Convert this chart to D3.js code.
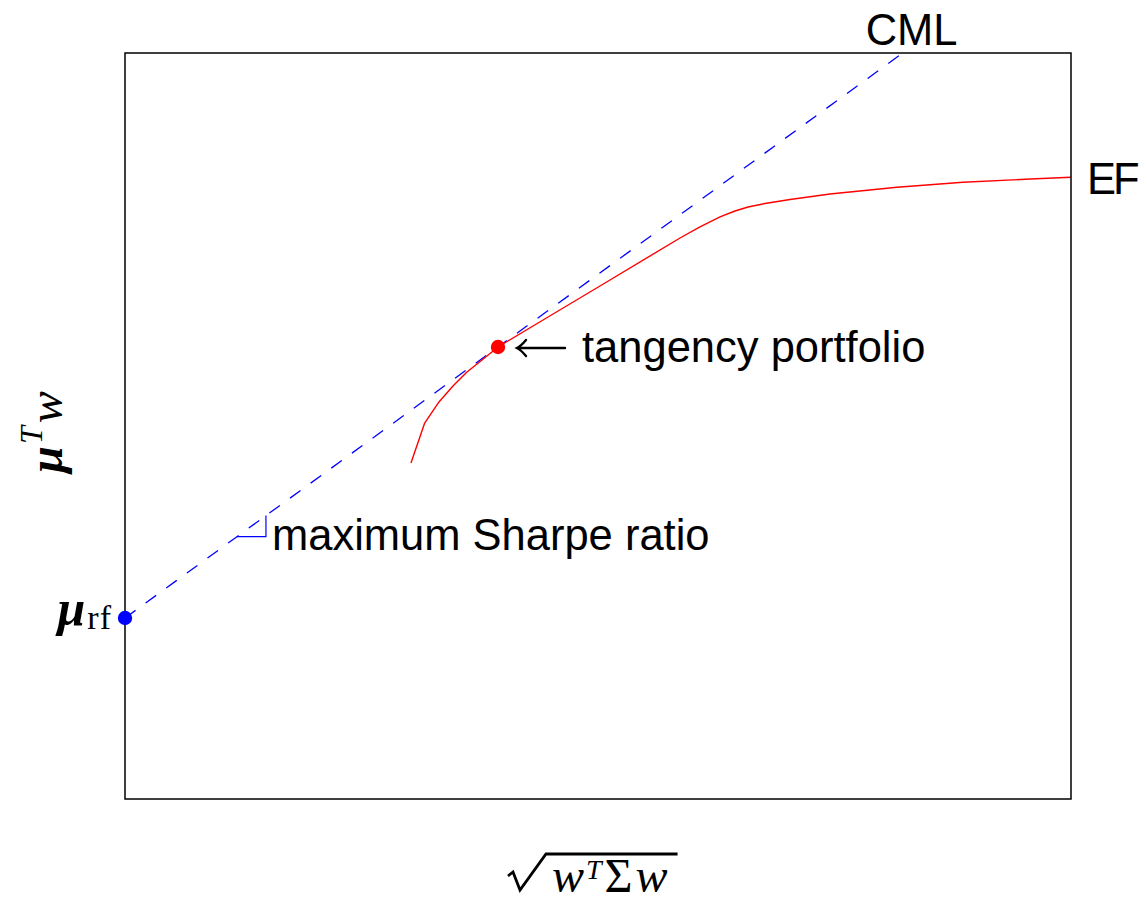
<!DOCTYPE html>
<html>
<head>
<meta charset="utf-8">
<script src="https://cdn.jsdelivr.net/npm/d3@7"></script>
<style>
  html, body { margin: 0; padding: 0; background: #fff; }
  svg { display: block; }
</style>
</head>
<body>
<svg id="chart" width="1142" height="903"></svg>
<script>
// Efficient frontier: portfolio risk (volatility) and expected return, unit-free
const efRisk   = [0.3023, 0.3166, 0.3319, 0.3467, 0.3615, 0.3774, 0.3943, 0.4366, 0.5021,
                  0.5867, 0.6078, 0.6290, 0.6448, 0.6586, 0.6765, 0.7030, 0.7452, 0.8161,
                  0.8858, 0.9567, 1.0000];
const efReturn = [0.4504, 0.5034, 0.5322, 0.5536, 0.5724, 0.5885, 0.6059, 0.6381, 0.6877,
                  0.7520, 0.7668, 0.7802, 0.7882, 0.7936, 0.7983, 0.8036, 0.8110, 0.8200,
                  0.8267, 0.8311, 0.8334];

// Risk-free rate and the tangency (maximum Sharpe) portfolio
const riskFree = 0.2426;
const tangencyRisk = 0.3943;
const tangencyReturn = 0.6059;

// Horizontal run of the little slope marker drawn on the CML
const sharpeRun = [0.1184, 0.1490];

const riskDomain = [0, 1];
const returnDomain = [0, 1];

const labelCML = "CML";
const labelEF = "EF";
const labelTangency = "tangency portfolio";
const labelSharpe = "maximum Sharpe ratio";

const width = 1142, height = 903;
const margin = { top: 53, right: 71, bottom: 104, left: 125 };

const svg = d3.select("#chart");

const x = d3.scaleLinear().domain(riskDomain).range([margin.left, width - margin.right]);
const y = d3.scaleLinear().domain(returnDomain).range([height - margin.bottom, margin.top]);

const sansFont = "'Liberation Sans', Arial, sans-serif";
const serifFont = "'Liberation Serif', 'DejaVu Serif', serif";
const textSize = 43.5;

svg.append("defs").append("clipPath").attr("id", "plot-clip")
  .append("rect")
  .attr("x", x(riskDomain[0])).attr("y", y(returnDomain[1]))
  .attr("width", x(riskDomain[1]) - x(riskDomain[0]))
  .attr("height", y(returnDomain[0]) - y(returnDomain[1]));

// Capital market line: from the risk-free rate through the tangency portfolio
const cmlSlope = (tangencyReturn - riskFree) / tangencyRisk;
const cmlEndRisk = (returnDomain[1] - riskFree) / cmlSlope;
const cmlAt = r => riskFree + cmlSlope * r;
const cmlPts = [[0, riskFree], [cmlEndRisk, returnDomain[1]]];

const line = d3.line().x(d => x(d[0])).y(d => y(d[1]));

const plot = svg.append("g").attr("clip-path", "url(#plot-clip)");

plot.append("path")
  .attr("d", line(cmlPts))
  .attr("fill", "none")
  .attr("stroke", "#0000ff")
  .attr("stroke-width", 1.3)
  .attr("stroke-dasharray", "13,12.5");

// Slope marker (rise over run) on the CML
const runY = cmlAt(sharpeRun[0]);
plot.append("path")
  .attr("d", line([[sharpeRun[0], runY], [sharpeRun[1], runY], [sharpeRun[1], cmlAt(sharpeRun[1])]]))
  .attr("fill", "none")
  .attr("stroke", "#0000ff")
  .attr("stroke-width", 1.2);

// Efficient frontier
plot.append("path")
  .attr("d", line(efRisk.map((r, i) => [r, efReturn[i]])))
  .attr("fill", "none")
  .attr("stroke", "#ff0000")
  .attr("stroke-width", 1.4)
  .attr("stroke-linejoin", "round");

// Frame
svg.append("rect")
  .attr("x", x(riskDomain[0])).attr("y", y(returnDomain[1]))
  .attr("width", x(riskDomain[1]) - x(riskDomain[0]))
  .attr("height", y(returnDomain[0]) - y(returnDomain[1]))
  .attr("fill", "none")
  .attr("stroke", "#000")
  .attr("stroke-width", 1.5);

// Points
svg.append("circle")
  .attr("cx", x(tangencyRisk)).attr("cy", y(tangencyReturn)).attr("r", 7.2)
  .attr("fill", "#ff0000");
svg.append("circle")
  .attr("cx", x(0)).attr("cy", y(riskFree)).attr("r", 7.2)
  .attr("fill", "#0000ff");

// Tangency annotation with long left arrow
const tx = x(tangencyRisk), ty = y(tangencyReturn);
const tip = tx + 19, ay = ty + 1;
svg.append("path")
  .attr("d", `M${tip},${ay} L${tip + 48},${ay} M${tip + 9},${ay - 8} Q${tip + 4},${ay - 2} ${tip},${ay} Q${tip + 4},${ay + 2} ${tip + 9},${ay + 8}`)
  .attr("fill", "none")
  .attr("stroke", "#000")
  .attr("stroke-width", 2.4)
  .attr("stroke-linecap", "round");
svg.append("text")
  .attr("x", tx + 84).attr("y", ty + 15)
  .attr("font-family", sansFont).attr("font-size", textSize)
  .text(labelTangency);

// Sharpe ratio label next to the slope marker
svg.append("text")
  .attr("x", x(sharpeRun[1]) + 6).attr("y", y(runY) + 13)
  .attr("font-family", sansFont).attr("font-size", textSize)
  .text(labelSharpe);

// Line labels
svg.append("text")
  .attr("x", x(cmlEndRisk) + 9).attr("y", y(returnDomain[1]) - 8)
  .attr("text-anchor", "middle")
  .attr("font-family", sansFont).attr("font-size", textSize)
  .text(labelCML);
svg.append("text")
  .attr("x", x(efRisk[efRisk.length - 1]) + 16).attr("y", y(efReturn[efReturn.length - 1]) + 17)
  .attr("font-family", sansFont).attr("font-size", textSize)
  .attr("letter-spacing", -3)
  .text(labelEF);

// Risk-free label
const rfLabel = svg.append("text")
  .attr("x", x(0) - 13).attr("y", y(riskFree) + 7)
  .attr("text-anchor", "end")
  .attr("font-family", serifFont).attr("font-size", 50);
rfLabel.append("tspan").attr("font-style", "italic").attr("font-weight", "bold").text("μ");
rfLabel.append("tspan").attr("font-size", 34).attr("dy", 4).attr("dx", 2).attr("letter-spacing", 1).text("rf");

// x-axis label: sqrt(w^T Σ w)
const xLabel = svg.append("g");
const xText = xLabel.append("text")
  .attr("x", 552).attr("y", 892)
  .attr("font-family", serifFont).attr("font-size", 48);
xText.append("tspan").attr("font-style", "italic").text("w");
xText.append("tspan").attr("font-style", "italic").attr("font-size", 28).attr("dy", -13).attr("dx", 2).text("T");
xText.append("tspan").attr("dy", 13).attr("dx", 3).text("Σ");
xText.append("tspan").attr("font-style", "italic").attr("dx", 3).text("w");
const xb = xText.node().getBBox();
const barY = 854, barEnd = xb.x + xb.width + 10;
xLabel.append("path")
  .attr("d", `M508,876 L513,872 L520,890 L546,${barY} L${barEnd},${barY}`)
  .attr("fill", "none")
  .attr("stroke", "#000")
  .attr("stroke-width", 2.8)
  .attr("stroke-linejoin", "miter");

// y-axis label: μ^T w
const yText = svg.append("text")
  .attr("transform", `translate(62,${(y(returnDomain[0]) + y(returnDomain[1])) / 2 + 6}) rotate(-90)`)
  .attr("text-anchor", "middle")
  .attr("font-family", serifFont).attr("font-size", 48);
yText.append("tspan").attr("font-style", "italic").attr("font-weight", "bold").text("μ");
yText.append("tspan").attr("font-style", "italic").attr("font-size", 32).attr("dy", -20).attr("dx", 2).text("T");
yText.append("tspan").attr("font-style", "italic").attr("dy", 20).attr("dx", 3).text("w");
</script>
</body>
</html>
